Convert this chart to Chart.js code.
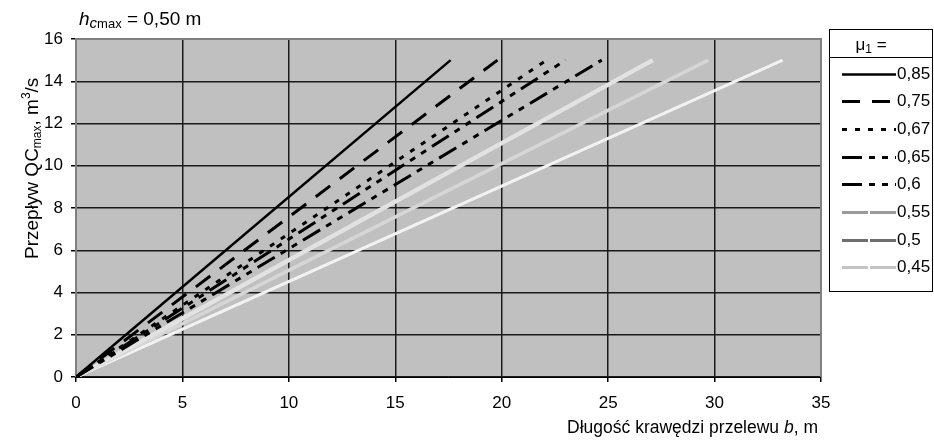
<!DOCTYPE html>
<html>
<head>
<meta charset="utf-8">
<script src="https://cdn.jsdelivr.net/npm/chart.js@4.4.1/dist/chart.umd.min.js"></script>
<style>
  html, body { margin: 0; padding: 0; background: #fff; }
  canvas { display: block; }
</style>
</head>
<body>
<canvas id="chart" width="934" height="441"></canvas>
<script>
// Discharge coefficient of the weir (legend labels)
const muLabels = ['0,85', '0,75', '0,67', '0,65', '0,6', '0,55', '0,5', '0,45'];

// Crest length b [m] at the start and end of each curve
const b085 = [0, 17.6];
const b075 = [0, 19.8];
const b067 = [0, 22.1];
const b065 = [0, 23.0];
const b060 = [0, 24.7];
const b055 = [0, 27.1];
const b050 = [0, 29.7];
const b045 = [0, 33.2];

// Flow QCmax [m3/s] matching the crest lengths above
const flowQ = [0, 15];

// Axis tick values
const xTicks = [0, 5, 10, 15, 20, 25, 30, 35];
const yTicks = [0, 2, 4, 6, 8, 10, 12, 14, 16];

const crestLengths = [b085, b075, b067, b065, b060, b055, b050, b045];

// Line appearance for each coefficient: plot stroke and legend stroke
const lineStyles = [
  { color: '#000000', legend: '#000000', width: 2.5, dash: [] },
  { color: '#000000', legend: '#000000', width: 3,   dash: [18, 12] },
  { color: '#000000', legend: '#000000', width: 3,   dash: [5, 8] },
  { color: '#000000', legend: '#000000', width: 3,   dash: [20, 7, 6, 7, 6, 7] },
  { color: '#000000', legend: '#000000', width: 3,   dash: [20, 7, 6, 7, 6, 7] },
  { color: '#e2e2e2', legend: '#9a9a9a', width: 4.5, dash: [] },
  { color: '#d6d6d6', legend: '#6e6e6e', width: 3.5, dash: [] },
  { color: '#f2f2f2', legend: '#c4c4c4', width: 3,   dash: [] }
];

const FONT = '"Liberation Sans", Arial, sans-serif';

const datasets = crestLengths.map((bs, i) => ({
  label: muLabels[i],
  data: bs.map((b, k) => ({ x: b, y: flowQ[k] })),
  borderColor: lineStyles[i].color,
  borderWidth: lineStyles[i].width,
  borderDash: lineStyles[i].dash,
  borderCapStyle: 'butt',
  fill: false,
  pointRadius: 0,
  tension: 0
}));

// Draws a run of text pieces (font + vertical shift) starting at x, y
function drawRuns(ctx, runs, x, y, align) {
  let total = 0;
  runs.forEach(r => { ctx.font = r.font; r.w = ctx.measureText(r.t).width; total += r.w; });
  let cx = align === 'right' ? x - total : align === 'center' ? x - total / 2 : x;
  runs.forEach(r => {
    ctx.font = r.font;
    ctx.fillText(r.t, cx, y + (r.dy || 0));
    cx += r.w;
  });
}

const decorations = {
  id: 'decorations',
  beforeDraw(chart) {
    const { ctx, chartArea: a } = chart;
    ctx.save();
    ctx.fillStyle = '#ffffff';
    ctx.fillRect(0, 0, chart.width, chart.height);
    ctx.fillStyle = '#c0c0c0';
    ctx.fillRect(a.left, a.top, a.right - a.left, a.bottom - a.top);
    ctx.restore();
  },
  beforeDatasetsDraw(chart) {
    const { ctx, chartArea: a } = chart;
    ctx.save();
    ctx.strokeStyle = '#808080';
    ctx.lineWidth = 2;
    ctx.beginPath();
    ctx.moveTo(a.left, a.bottom);
    ctx.lineTo(a.left, a.top);
    ctx.lineTo(a.right, a.top);
    ctx.lineTo(a.right, a.bottom);
    ctx.stroke();
    ctx.strokeStyle = '#000';
    ctx.lineWidth = 1;
    ctx.beginPath();
    ctx.moveTo(a.left, Math.round(a.bottom) + 0.5);
    ctx.lineTo(a.right, Math.round(a.bottom) + 0.5);
    ctx.stroke();
    ctx.restore();
  },
  afterDraw(chart) {
    const { ctx } = chart;
    const xs = chart.scales.x, ys = chart.scales.y;
    ctx.save();
    ctx.fillStyle = '#000';
    ctx.textBaseline = 'middle';

    // tick labels
    ctx.font = '17px ' + FONT;
    ctx.textAlign = 'center';
    xTicks.forEach(v => ctx.fillText(String(v), xs.getPixelForValue(v), 403));
    ctx.textAlign = 'right';
    yTicks.forEach(v => ctx.fillText(String(v), 63, ys.getPixelForValue(v)));

    // chart title
    ctx.textAlign = 'left';
    ctx.textBaseline = 'alphabetic';
    drawRuns(ctx, [
      { t: 'h', font: 'italic 19px ' + FONT },
      { t: 'c', font: 'italic 15px ' + FONT, dy: 3 },
      { t: 'max', font: '13px ' + FONT, dy: 3 },
      { t: ' = 0,50 m', font: '19px ' + FONT }
    ], 79, 25, 'left');

    // x axis title
    drawRuns(ctx, [
      { t: 'Długość krawędzi przelewu ', font: '17.5px ' + FONT },
      { t: 'b', font: 'italic 17.5px ' + FONT },
      { t: ', m', font: '17.5px ' + FONT }
    ], 818, 433, 'right');

    // y axis title
    ctx.save();
    ctx.translate(38, 259);
    ctx.rotate(-Math.PI / 2);
    drawRuns(ctx, [
      { t: 'Przepływ QC', font: '19px ' + FONT },
      { t: 'max', font: '12px ' + FONT, dy: 3 },
      { t: ', m', font: '19px ' + FONT },
      { t: '3', font: '12px ' + FONT, dy: -8 },
      { t: '/s', font: '19px ' + FONT }
    ], 0, 0, 'left');
    ctx.restore();

    // legend frame
    const L = 829.5, T = 29.5, R = 932.5, B = 291.5;
    ctx.strokeStyle = '#000';
    ctx.lineWidth = 1;
    ctx.strokeRect(L, T, R - L, B - T);
    ctx.beginPath();
    ctx.moveTo(L, 57.5);
    ctx.lineTo(R, 57.5);
    ctx.stroke();
    drawRuns(ctx, [
      { t: 'μ', font: '17px ' + FONT },
      { t: '1', font: '12px ' + FONT, dy: 3 },
      { t: ' =', font: '17px ' + FONT }
    ], 871, 50, 'center');

    chart.data.datasets.forEach((ds, i) => {
      const y = Math.round(73.5 + i * 27.7) + 0.5;
      const st = lineStyles[i];
      ctx.save();
      ctx.strokeStyle = st.legend;
      ctx.lineWidth = Math.min(st.width, 3);
      ctx.setLineDash(st.dash.length ? st.dash : (i >= 5 ? [26, 2] : []));
      ctx.beginPath();
      ctx.moveTo(842, y);
      ctx.lineTo(896, y);
      ctx.stroke();
      ctx.restore();
      ctx.textBaseline = 'middle';
      ctx.textAlign = 'left';
      ctx.font = '17px ' + FONT;
      ctx.fillText(ds.label, 897, y);
    });
    ctx.restore();
  }
};

new Chart(document.getElementById('chart'), {
  type: 'line',
  data: { datasets },
  options: {
    responsive: false,
    animation: false,
    devicePixelRatio: 1,
    layout: { padding: { top: 39, right: 113, left: 0, bottom: 0 } },
    plugins: { legend: { display: false }, title: { display: false }, tooltip: { enabled: false } },
    scales: {
      x: {
        type: 'linear', min: 0, max: 35,
        ticks: { stepSize: 5, display: false },
        grid: { color: '#1a1a1a', lineWidth: 1.5, tickLength: 5, tickColor: '#000' },
        border: { display: false },
        afterFit(s) { s.height = 64; }
      },
      y: {
        type: 'linear', min: 0, max: 16,
        ticks: { stepSize: 2, display: false },
        grid: { color: '#1a1a1a', lineWidth: 1.5, tickLength: 5, tickColor: '#000' },
        border: { display: false },
        afterFit(s) { s.width = 76; }
      }
    }
  },
  plugins: [decorations]
});
</script>
</body>
</html>
